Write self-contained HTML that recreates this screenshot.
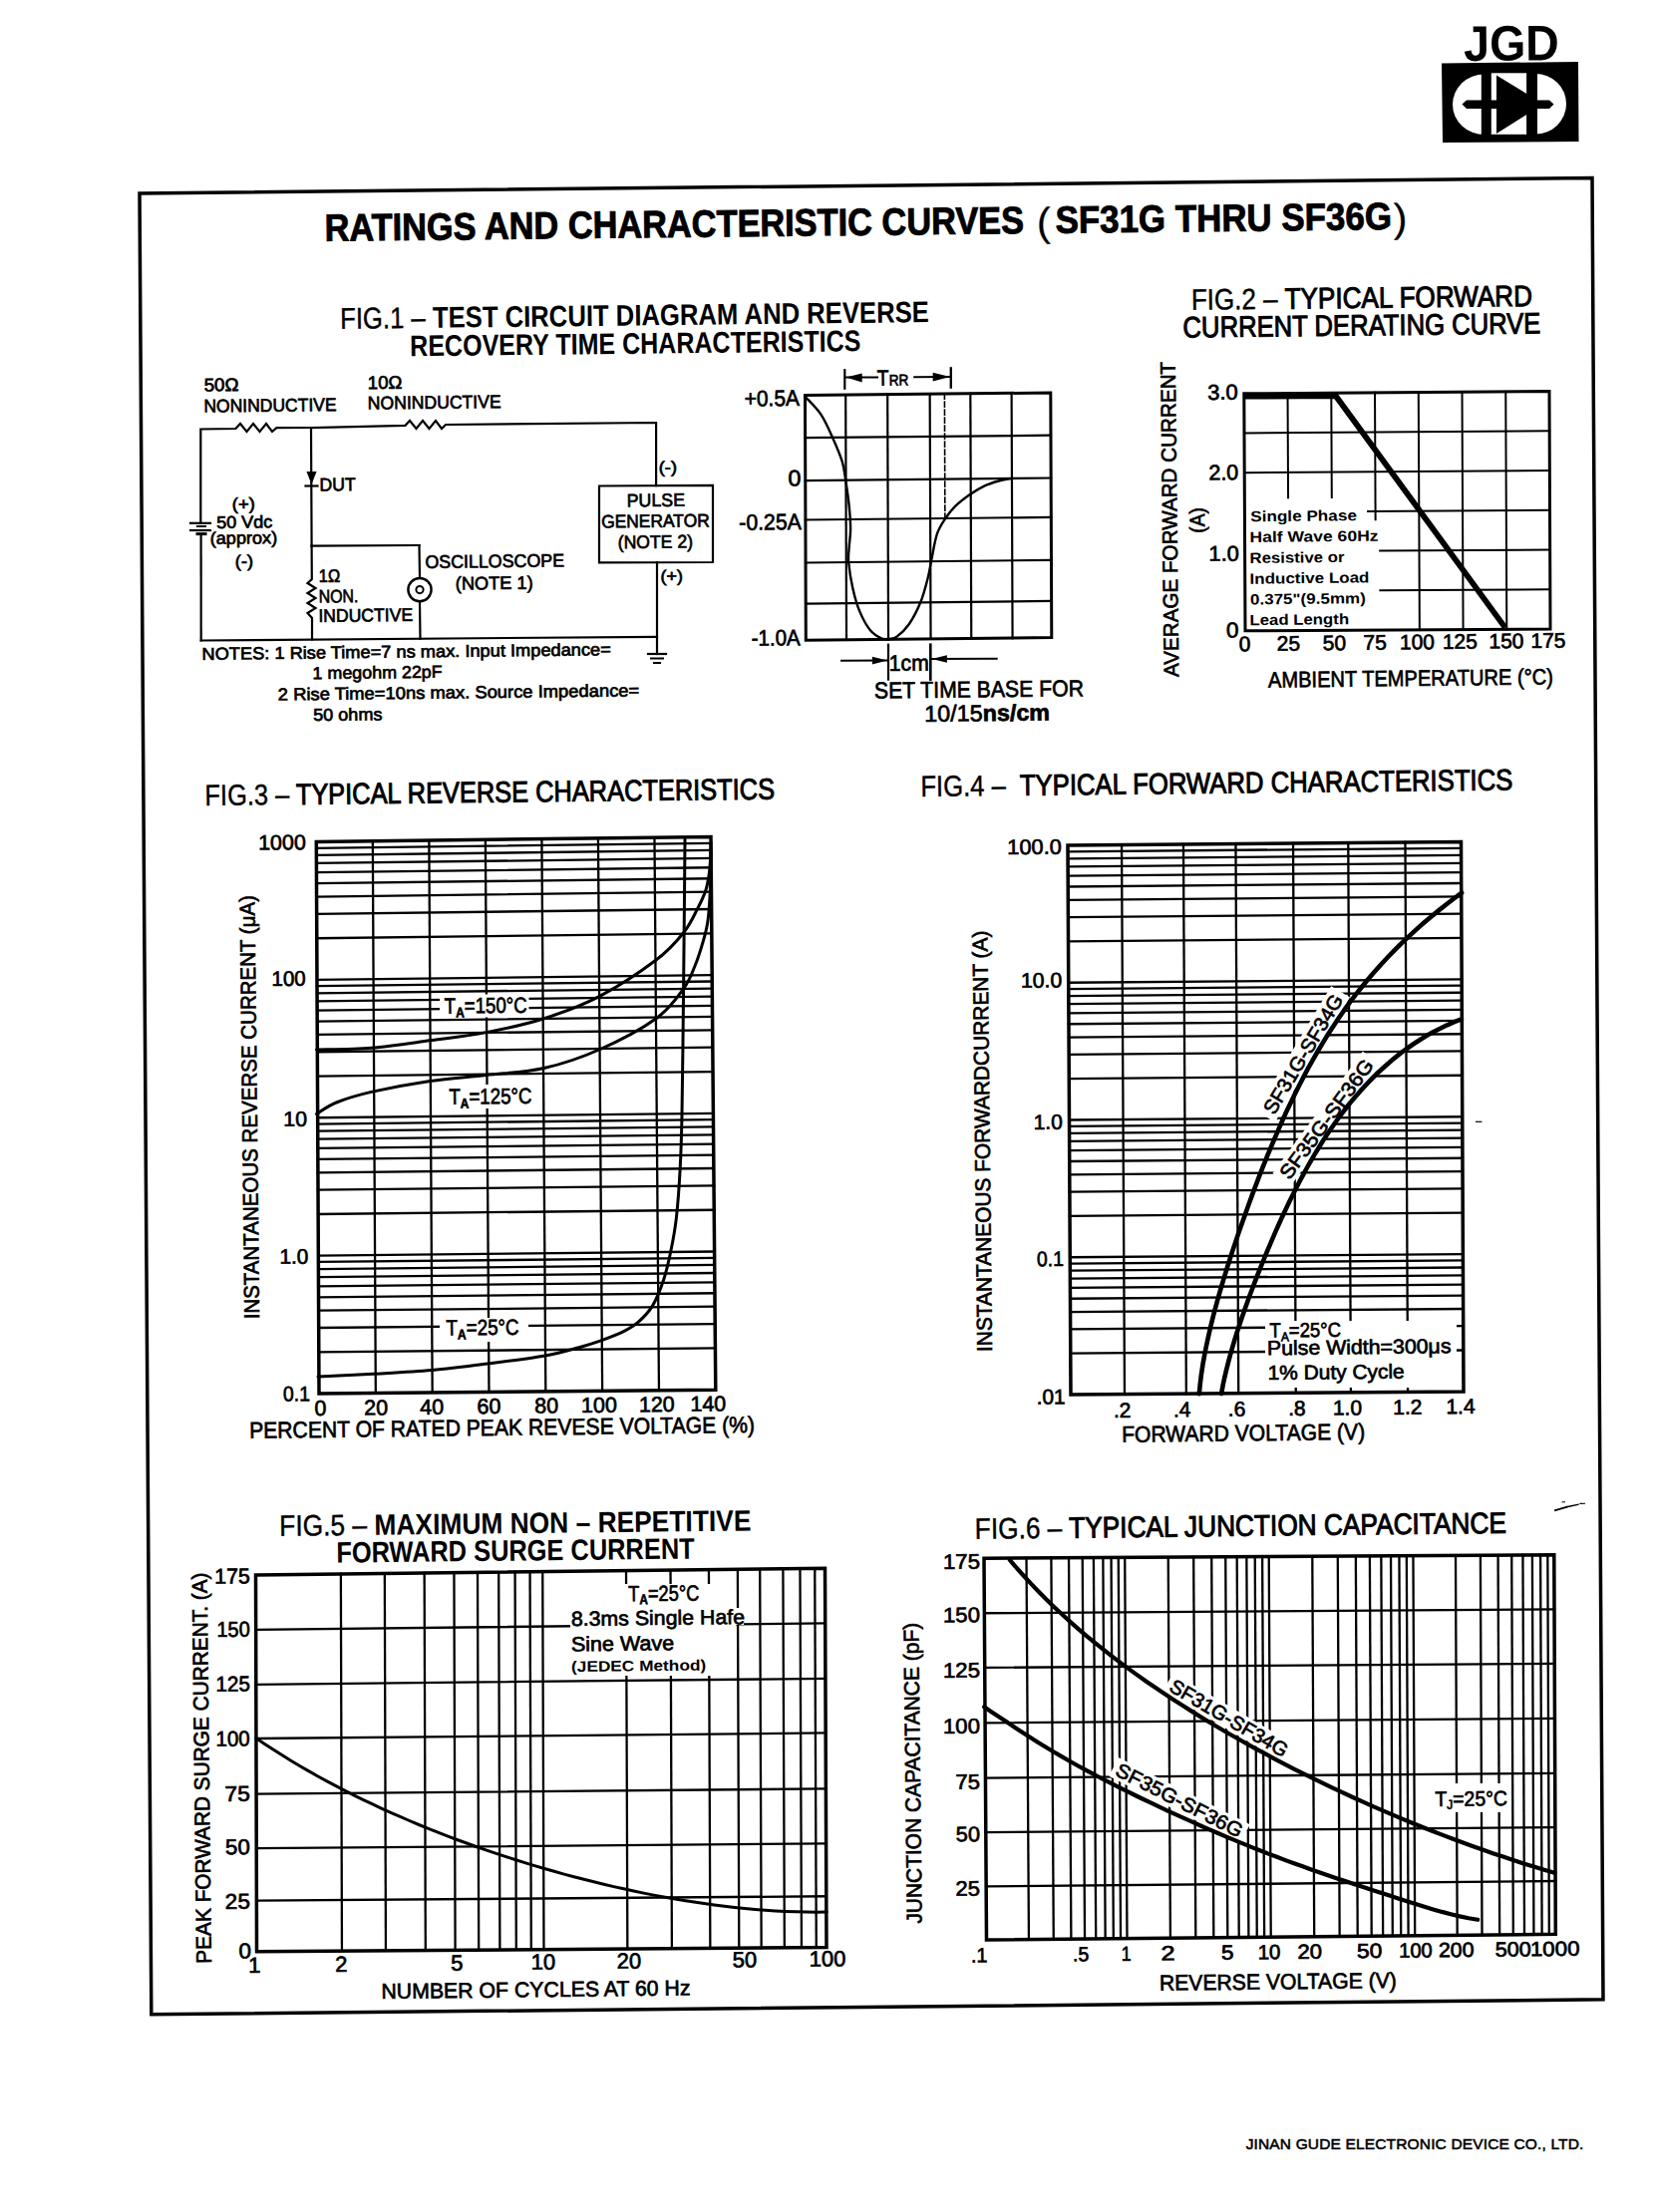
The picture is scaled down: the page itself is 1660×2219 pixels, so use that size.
<!DOCTYPE html><html><head><meta charset="utf-8"><style>html,body{margin:0;padding:0;background:#fff;}svg{display:block;}text{font-family:"Liberation Sans",sans-serif;fill:#000;stroke:none;}text.t{stroke:#000;stroke-width:0.5px;}</style></head><body>
<svg width="1660" height="2219" viewBox="0 0 1660 2219">
<rect x="0" y="0" width="1660" height="2219" fill="#fff"/>
<g stroke="#000" fill="none" stroke-linecap="square">
<path d="M1446 63.5 L1583 62 L1583.5 142 L1447 143 Z" stroke-width="0" fill="#000" stroke="none"/>
<ellipse cx="1489" cy="104.8" rx="32" ry="30.3" fill="#fff" stroke="none"/>
<ellipse cx="1540" cy="104.2" rx="31" ry="30.3" fill="#fff" stroke="none"/>
<rect x="1488" y="73.3" width="54" height="61.5" fill="#fff" stroke="none"/>
<path d="M1485.8 72 L1495.8 72 L1495.8 136 L1485.8 136 Z" stroke-width="0" fill="#000" stroke="none"/>
<path d="M1531.1 72 L1542 72 L1542 136 L1531.1 136 Z" stroke-width="0" fill="#000" stroke="none"/>
<path d="M1501 75.5 L1532 94.5 L1532 114.5 L1501 134 Z" stroke-width="0" fill="#000" stroke="none"/>
<path d="M1466.5 104.5 L1471 100.5 L1554 100.5 L1558.5 104.5 L1554 109 L1471 109 Z" stroke-width="0" fill="#000" stroke="none"/>
<text x="1468.3" y="61" font-size="50" font-weight="bold" textLength="95.66" lengthAdjust="spacingAndGlyphs" transform="rotate(-0.4 1468.3 61)">JGD</text>
<path d="M140 194 L1597 178.5 L1608 2005.8 L151.8 2020.8 Z" stroke-width="3.5" fill="none" stroke-linejoin="miter"/>
<text x="325.72" y="241.8" font-size="38.3" font-weight="bold" textLength="701.42" lengthAdjust="spacingAndGlyphs" transform="rotate(-0.63 325.72 241.8)" style="stroke:#000;stroke-width:0.9px">RATINGS AND CHARACTERISTIC CURVES</text>
<text x="1040.13" y="236.44" font-size="40" textLength="13.82" lengthAdjust="spacingAndGlyphs" transform="rotate(-0.63 1040.13 236.44)" style="stroke:#000;stroke-width:0.2px">(</text>
<text x="1058.69" y="233.75" font-size="38.3" font-weight="bold" textLength="337.37" lengthAdjust="spacingAndGlyphs" transform="rotate(-0.63 1058.69 233.75)" style="stroke:#000;stroke-width:0.9px">SF31G THRU SF36G</text>
<text x="1397.76" y="232.53" font-size="40" textLength="13.82" lengthAdjust="spacingAndGlyphs" transform="rotate(-0.63 1397.76 232.53)" style="stroke:#000;stroke-width:0.2px">)</text>
<text x="341.29" y="329.8" font-size="29.8" font-weight="bold" textLength="590.71" lengthAdjust="spacingAndGlyphs" transform="rotate(-0.65 341.29 329.8)"><tspan font-weight="normal" style="stroke:#000;stroke-width:0.4px">FIG.1 – </tspan>TEST CIRCUIT DIAGRAM AND REVERSE</text>
<text x="411.33" y="357.3" font-size="29.8" font-weight="bold" textLength="452.15" lengthAdjust="spacingAndGlyphs" transform="rotate(-0.65 411.33 357.3)">RECOVERY TIME CHARACTERISTICS</text>
<text x="204.65" y="392.4" font-size="18.3" textLength="35.06" lengthAdjust="spacingAndGlyphs" transform="rotate(-0.65 204.65 392.4)" style="stroke:#000;stroke-width:0.7px">50Ω</text>
<text x="204.46" y="413.6" font-size="18.3" textLength="133.19" lengthAdjust="spacingAndGlyphs" transform="rotate(-0.65 204.46 413.6)" style="stroke:#000;stroke-width:0.7px">NONINDUCTIVE</text>
<text x="368.88" y="390.2" font-size="18.3" textLength="34.62" lengthAdjust="spacingAndGlyphs" transform="rotate(-0.65 368.88 390.2)" style="stroke:#000;stroke-width:0.7px">10Ω</text>
<text x="368.86" y="410.6" font-size="18.3" textLength="133.8" lengthAdjust="spacingAndGlyphs" transform="rotate(-0.65 368.86 410.6)" style="stroke:#000;stroke-width:0.7px">NONINDUCTIVE</text>
<text x="660.77" y="474.5" font-size="16.5" textLength="18.27" lengthAdjust="spacingAndGlyphs" transform="rotate(-0.65 660.77 474.5)" style="stroke:#000;stroke-width:0.7px">(-)</text>
<text x="320.55" y="492.5" font-size="18.3" textLength="36.36" lengthAdjust="spacingAndGlyphs" transform="rotate(-0.65 320.55 492.5)" style="stroke:#000;stroke-width:0.7px">DUT</text>
<text x="232.85" y="511.5" font-size="17" textLength="23.09" lengthAdjust="spacingAndGlyphs" transform="rotate(-0.65 232.85 511.5)" style="stroke:#000;stroke-width:0.7px">(+)</text>
<text x="217.18" y="529.9" font-size="17.2" textLength="56.2" lengthAdjust="spacingAndGlyphs" transform="rotate(-0.65 217.18 529.9)" style="stroke:#000;stroke-width:0.7px">50 Vdc</text>
<text x="210.78" y="545.9" font-size="17.2" textLength="67.45" lengthAdjust="spacingAndGlyphs" transform="rotate(-0.65 210.78 545.9)" style="stroke:#000;stroke-width:0.7px">(approx)</text>
<text x="235.87" y="568.9" font-size="17" textLength="18.27" lengthAdjust="spacingAndGlyphs" transform="rotate(-0.65 235.87 568.9)" style="stroke:#000;stroke-width:0.7px">(-)</text>
<text x="628.74" y="508.4" font-size="18.3" textLength="58.32" lengthAdjust="spacingAndGlyphs" transform="rotate(-0.65 628.74 508.4)" style="stroke:#000;stroke-width:0.7px">PULSE</text>
<text x="603.14" y="529.5" font-size="18.3" textLength="108.66" lengthAdjust="spacingAndGlyphs" transform="rotate(-0.65 603.14 529.5)" style="stroke:#000;stroke-width:0.7px">GENERATOR</text>
<text x="619.81" y="550.3" font-size="18.3" textLength="75.28" lengthAdjust="spacingAndGlyphs" transform="rotate(-0.65 619.81 550.3)" style="stroke:#000;stroke-width:0.7px">(NOTE 2)</text>
<text x="662.48" y="583.7" font-size="16.5" textLength="22.54" lengthAdjust="spacingAndGlyphs" transform="rotate(-0.65 662.48 583.7)" style="stroke:#000;stroke-width:0.7px">(+)</text>
<text x="426.46" y="570" font-size="18.3" textLength="139.61" lengthAdjust="spacingAndGlyphs" transform="rotate(-0.65 426.46 570)" style="stroke:#000;stroke-width:0.7px">OSCILLOSCOPE</text>
<text x="456.87" y="591.6" font-size="18.3" textLength="77.86" lengthAdjust="spacingAndGlyphs" transform="rotate(-0.65 456.87 591.6)" style="stroke:#000;stroke-width:0.7px">(NOTE 1)</text>
<text x="319.75" y="584" font-size="18.3" textLength="21.46" lengthAdjust="spacingAndGlyphs" transform="rotate(-0.65 319.75 584)" style="stroke:#000;stroke-width:0.7px">1Ω</text>
<text x="319.7" y="604.6" font-size="18.3" textLength="39.76" lengthAdjust="spacingAndGlyphs" transform="rotate(-0.65 319.7 604.6)" style="stroke:#000;stroke-width:0.7px">NON.</text>
<text x="319.38" y="624" font-size="18.3" textLength="94.78" lengthAdjust="spacingAndGlyphs" transform="rotate(-0.65 319.38 624)" style="stroke:#000;stroke-width:0.7px">INDUCTIVE</text>
<text x="202.51" y="661.9" font-size="17.3" textLength="410.39" lengthAdjust="spacingAndGlyphs" transform="rotate(-0.65 202.51 661.9)" style="stroke:#000;stroke-width:0.7px">NOTES: 1 Rise Time=7 ns max. Input Impedance=</text>
<text x="313.64" y="681.2" font-size="17.3" textLength="130.08" lengthAdjust="spacingAndGlyphs" transform="rotate(-0.65 313.64 681.2)" style="stroke:#000;stroke-width:0.7px">1 megohm 22pF</text>
<text x="278.88" y="702.5" font-size="17.3" textLength="362.42" lengthAdjust="spacingAndGlyphs" transform="rotate(-0.65 278.88 702.5)" style="stroke:#000;stroke-width:0.7px">2  Rise Time=10ns max. Source Impedance=</text>
<text x="314.28" y="723.1" font-size="17.3" textLength="69.17" lengthAdjust="spacingAndGlyphs" transform="rotate(-0.65 314.28 723.1)" style="stroke:#000;stroke-width:0.7px">50 ohms</text>
<path d="M201.3 524.8 L201.3 430.5 L236.4 430 L241 425 L247.5 433 L254 425 L260.5 433 L267 425 L273 433 L277.4 429.2 L312 429" stroke-width="2.2" fill="none" stroke-linejoin="miter"/>
<path d="M312 429 L406.5 426.8 L411 422 L417.5 430 L424 422 L430.5 430 L437 422 L443 430 L447 426 L658.1 424 L658.1 487.2" stroke-width="2.2" fill="none" stroke-linejoin="miter"/>
<line x1="312" y1="429" x2="312.6" y2="547.6" stroke-width="2.2"/>
<path d="M307.5 473 L317.5 473 L312.5 486 Z" stroke-width="0" fill="#000" stroke="none"/>
<line x1="306.5" y1="487.5" x2="318.5" y2="487.5" stroke-width="2.2"/>
<path d="M312.6 547.6 L420.5 547" stroke-width="2.2" fill="none"/>
<line x1="420.5" y1="547" x2="421" y2="579.5" stroke-width="2.2"/>
<line x1="421" y1="604" x2="421.5" y2="641" stroke-width="2.2"/>
<circle cx="421" cy="591.6" r="11.6" stroke-width="2.4" fill="none"/>
<circle cx="421" cy="591.6" r="3.6" stroke-width="2" fill="none"/>
<path d="M312.6 547.6 L312.8 581 L308.5 585 L316.5 590 L308.5 595 L316.5 600 L308.5 605 L316.5 610 L308.5 615 L313 620 L313 641.5" stroke-width="2.2" fill="none" stroke-linejoin="miter"/>
<line x1="201.7" y1="642.5" x2="659" y2="638.8" stroke-width="2.2"/>
<line x1="659" y1="564.2" x2="659" y2="656" stroke-width="2.2"/>
<line x1="650" y1="656" x2="668" y2="656" stroke-width="2.2"/>
<line x1="653" y1="660.5" x2="665" y2="660.5" stroke-width="2"/>
<line x1="656" y1="665" x2="662" y2="665" stroke-width="2"/>
<path d="M601 487.5 L715 486.8 L715 564 L601 564.4 Z" stroke-width="2.2" fill="none" stroke-linejoin="miter"/>
<line x1="191" y1="524.8" x2="211" y2="524.8" stroke-width="2.2"/>
<line x1="198" y1="528" x2="206" y2="528" stroke-width="2"/>
<line x1="191" y1="532" x2="211" y2="532" stroke-width="2.2"/>
<line x1="198" y1="535.6" x2="206" y2="535.6" stroke-width="3"/>
<line x1="201.6" y1="536" x2="201.7" y2="642.5" stroke-width="2.2"/>
<line x1="848.19" y1="396.09" x2="849.02" y2="641.85" stroke-width="2.2"/>
<line x1="890.18" y1="395.66" x2="891.05" y2="641.39" stroke-width="2.2"/>
<line x1="932.65" y1="395.23" x2="933.55" y2="640.93" stroke-width="2.2"/>
<line x1="973.33" y1="394.82" x2="974.27" y2="640.48" stroke-width="2.2"/>
<line x1="1014.61" y1="394.4" x2="1015.58" y2="640.03" stroke-width="2.2"/>
<line x1="807.64" y1="439.2" x2="1053.97" y2="436.66" stroke-width="2.2"/>
<line x1="807.78" y1="482.09" x2="1054.15" y2="479.52" stroke-width="2.2"/>
<line x1="807.91" y1="521.49" x2="1054.31" y2="518.89" stroke-width="2.2"/>
<line x1="808.05" y1="564.48" x2="1054.48" y2="561.84" stroke-width="2.2"/>
<line x1="808.18" y1="605.58" x2="1054.65" y2="602.91" stroke-width="2.2"/>
<path d="M807.5 396.5 L1053.8 394 L1054.8 639.6 L808.3 642.3 Z" stroke-width="3" fill="none" stroke-linejoin="miter"/>
<line x1="947.4" y1="395.08" x2="947.86" y2="519.15" stroke-width="1.6" stroke-dasharray="5 3"/>
<path d="M808.2 398.5 C810.75 401.4 818.98 409.08 823.5 415.9 C828.02 422.72 831.77 431.57 835.3 439.4 C838.83 447.23 842.55 455.85 844.7 462.9 C846.85 469.95 847.03 474.25 848.2 481.7 C849.37 489.15 850.88 499.37 851.7 507.6 C852.52 515.83 853.1 524.25 853.1 531.1 C853.1 537.95 852.02 543.22 851.7 548.7 C851.38 554.18 850.6 557.13 851.2 564 C851.8 570.87 853.45 581.67 855.3 589.9 C857.15 598.13 859.37 606.35 862.3 613.4 C865.23 620.45 869.18 627.67 872.9 632.2 C876.62 636.73 881.47 639.13 884.6 640.6 C887.73 642.07 889.15 641.37 891.7 641 C894.25 640.63 896.57 640.85 899.9 638.4 C903.23 635.95 907.78 632.03 911.7 626.3 C915.62 620.57 920.27 611.63 923.4 604 C926.53 596.37 928.65 587.75 930.5 580.5 C932.35 573.25 932.92 568.02 934.5 560.5 C936.08 552.98 937.63 542.23 940 535.4 C942.37 528.57 945.68 524.08 948.7 519.5 C951.72 514.92 954.12 511.77 958.1 507.9 C962.08 504.03 967.77 499.68 972.6 496.3 C977.43 492.92 982.27 489.9 987.1 487.6 C991.93 485.3 997.37 483.72 1001.6 482.5 C1005.83 481.28 1010.1 480.72 1012.5 480.3 C1014.9 479.88 1015.42 480.05 1016 480" stroke-width="2.4" fill="none" stroke-linecap="round" stroke-linejoin="round"/>
<text x="802.04" y="406.9" font-size="22.5" text-anchor="end" textLength="55.26" lengthAdjust="spacingAndGlyphs" transform="rotate(-0.65 802.04 406.9)" style="stroke:#000;stroke-width:0.7px">+0.5A</text>
<text x="803.62" y="487.4" font-size="22.5" text-anchor="end" textLength="13.03" lengthAdjust="spacingAndGlyphs" transform="rotate(-0.65 803.62 487.4)" style="stroke:#000;stroke-width:0.7px">0</text>
<text x="803.84" y="531" font-size="22.5" text-anchor="end" textLength="62.48" lengthAdjust="spacingAndGlyphs" transform="rotate(-0.65 803.84 531)" style="stroke:#000;stroke-width:0.7px">-0.25A</text>
<text x="802.74" y="647.3" font-size="22.5" text-anchor="end" textLength="49.05" lengthAdjust="spacingAndGlyphs" transform="rotate(-0.65 802.74 647.3)" style="stroke:#000;stroke-width:0.7px">-1.0A</text>
<line x1="847.3" y1="371.2" x2="847.3" y2="389.7" stroke-width="2.2"/>
<line x1="953.8" y1="369.4" x2="953.8" y2="388.6" stroke-width="2.4"/>
<line x1="848" y1="378.6" x2="880" y2="378.4" stroke-width="2"/>
<path d="M848.5 378.6 L864.7 374.6 L864.7 383.4 Z" stroke-width="0" fill="#000" stroke="none"/>
<line x1="917.2" y1="378.2" x2="953" y2="378" stroke-width="2"/>
<path d="M953 378 L935.7 373.8 L935.7 382.6 Z" stroke-width="0" fill="#000" stroke="none"/>
<text x="879.86" y="386.8" font-size="22" textLength="31.56" lengthAdjust="spacingAndGlyphs" transform="rotate(-0.65 879.86 386.8)" style="stroke:#000;stroke-width:0.7px">T<tspan font-size="15.5">RR</tspan></text>
<line x1="891" y1="646.7" x2="891" y2="681.6" stroke-width="2.2"/>
<line x1="933.3" y1="646.7" x2="933.3" y2="681.6" stroke-width="2.6"/>
<line x1="844.1" y1="662.8" x2="889" y2="662.5" stroke-width="2"/>
<path d="M890 662.5 L874.9 658.8 L874.9 666.4 Z" stroke-width="0" fill="#000" stroke="none"/>
<line x1="934" y1="661" x2="999.7" y2="660.8" stroke-width="2"/>
<path d="M934.5 661 L949.9 657.3 L949.9 664.8 Z" stroke-width="0" fill="#000" stroke="none"/>
<text x="891.79" y="672.9" font-size="22.5" textLength="40.01" lengthAdjust="spacingAndGlyphs" transform="rotate(-0.65 891.79 672.9)" style="stroke:#000;stroke-width:0.7px">1cm</text>
<text x="877.04" y="700.6" font-size="23" textLength="209.94" lengthAdjust="spacingAndGlyphs" transform="rotate(-0.65 877.04 700.6)" style="stroke:#000;stroke-width:0.7px">SET TIME BASE FOR</text>
<text x="927.35" y="723.9" font-size="23" textLength="125.76" lengthAdjust="spacingAndGlyphs" transform="rotate(-0.65 927.35 723.9)" style="stroke:#000;stroke-width:0.7px">10/15<tspan font-weight="bold">ns/cm</tspan></text>
<text x="1194.88" y="310.8" font-size="29.5" textLength="342.16" lengthAdjust="spacingAndGlyphs" transform="rotate(-0.65 1194.88 310.8)" style="stroke:#000;stroke-width:1px"><tspan style="stroke:#000;stroke-width:0.4px">FIG.2 – </tspan>TYPICAL FORWARD</text>
<text x="1186.61" y="338.5" font-size="29.5" textLength="358.88" lengthAdjust="spacingAndGlyphs" transform="rotate(-0.65 1186.61 338.5)" style="stroke:#000;stroke-width:1px">CURRENT DERATING CURVE</text>
<line x1="1291.54" y1="394.49" x2="1292.06" y2="499.23" stroke-width="2"/>
<line x1="1335.29" y1="394.17" x2="1335.79" y2="498.94" stroke-width="2"/>
<line x1="1379.03" y1="393.86" x2="1379.62" y2="521.28" stroke-width="2"/>
<line x1="1422.77" y1="393.54" x2="1423.86" y2="631.77" stroke-width="2"/>
<line x1="1466.51" y1="393.23" x2="1467.57" y2="631.51" stroke-width="2"/>
<line x1="1510.26" y1="392.91" x2="1511.29" y2="631.26" stroke-width="2"/>
<line x1="1248" y1="434.47" x2="1554.17" y2="432.33" stroke-width="2"/>
<line x1="1248.2" y1="474.13" x2="1554.33" y2="472.07" stroke-width="2"/>
<line x1="1372.06" y1="512.99" x2="1554.5" y2="511.8" stroke-width="2"/>
<line x1="1384.19" y1="552.61" x2="1554.67" y2="551.53" stroke-width="2"/>
<line x1="1384.37" y1="592.31" x2="1554.83" y2="591.27" stroke-width="2"/>
<path d="M1247.8 394.8 L1554 392.6 L1555 631 L1249 632.8 Z" stroke-width="3" fill="none" stroke-linejoin="miter"/>
<path d="M1247.81 397.66 L1339.67 397 L1509.7 629.6" stroke-width="5.8" fill="none" stroke-linejoin="round" stroke-linecap="butt"/>
<text x="1241.86" y="400.6" font-size="21.5" text-anchor="end" textLength="30.7" lengthAdjust="spacingAndGlyphs" transform="rotate(-0.65 1241.86 400.6)" style="stroke:#000;stroke-width:0.7px">3.0</text>
<text x="1242.34" y="481.2" font-size="21.5" text-anchor="end" textLength="29.92" lengthAdjust="spacingAndGlyphs" transform="rotate(-0.65 1242.34 481.2)" style="stroke:#000;stroke-width:0.7px">2.0</text>
<text x="1242.85" y="562.5" font-size="21.5" text-anchor="end" textLength="30.31" lengthAdjust="spacingAndGlyphs" transform="rotate(-0.65 1242.85 562.5)" style="stroke:#000;stroke-width:0.7px">1.0</text>
<text x="1242.68" y="639.4" font-size="21.5" text-anchor="end" textLength="12.57" lengthAdjust="spacingAndGlyphs" transform="rotate(-0.65 1242.68 639.4)" style="stroke:#000;stroke-width:0.7px">0</text>
<text x="1248.5" y="653.2" font-size="21" text-anchor="middle" transform="rotate(-0.65 1248.5 653.2)" style="stroke:#000;stroke-width:0.7px">0</text>
<text x="1292.4" y="652.7" font-size="21" text-anchor="middle" transform="rotate(-0.65 1292.4 652.7)" style="stroke:#000;stroke-width:0.7px">25</text>
<text x="1338.4" y="652.18" font-size="21" text-anchor="middle" transform="rotate(-0.65 1338.4 652.18)" style="stroke:#000;stroke-width:0.7px">50</text>
<text x="1379.2" y="651.72" font-size="21" text-anchor="middle" transform="rotate(-0.65 1379.2 651.72)" style="stroke:#000;stroke-width:0.7px">75</text>
<text x="1421.5" y="651.24" font-size="21" text-anchor="middle" transform="rotate(-0.65 1421.5 651.24)" style="stroke:#000;stroke-width:0.7px">100</text>
<text x="1464.4" y="650.75" font-size="21" text-anchor="middle" transform="rotate(-0.65 1464.4 650.75)" style="stroke:#000;stroke-width:0.7px">125</text>
<text x="1511" y="650.22" font-size="21" text-anchor="middle" transform="rotate(-0.65 1511 650.22)" style="stroke:#000;stroke-width:0.7px">150</text>
<text x="1553" y="649.74" font-size="21" text-anchor="middle" transform="rotate(-0.65 1553 649.74)" style="stroke:#000;stroke-width:0.7px">175</text>
<text x="1272.06" y="689.7" font-size="22.4" textLength="285.87" lengthAdjust="spacingAndGlyphs" transform="rotate(-0.65 1272.06 689.7)" style="stroke:#000;stroke-width:0.7px">AMBIENT TEMPERATURE (°C)</text>
<text x="0" y="0" font-size="21.2" textLength="316.2" lengthAdjust="spacingAndGlyphs" style="stroke:#000;stroke-width:0.7px" transform="translate(1182.29 679) rotate(-90.65)">AVERAGE FORWARD CURRENT</text>
<text x="0" y="0" font-size="21.2" textLength="25.7" lengthAdjust="spacingAndGlyphs" style="stroke:#000;stroke-width:0.7px" transform="translate(1208.29 534.7) rotate(-90.65)">(A)</text>
<text x="1254.21" y="523.3" font-size="15" font-weight="bold" textLength="106.78" lengthAdjust="spacingAndGlyphs" transform="rotate(-0.65 1254.21 523.3)">Single Phase</text>
<text x="1253.53" y="544" font-size="15" font-weight="bold" textLength="129.1" lengthAdjust="spacingAndGlyphs" transform="rotate(-0.65 1253.53 544)">Half Wave 60Hz</text>
<text x="1253.58" y="565" font-size="15" font-weight="bold" textLength="94.87" lengthAdjust="spacingAndGlyphs" transform="rotate(-0.65 1253.58 565)">Resistive or</text>
<text x="1253.56" y="585.7" font-size="15" font-weight="bold" textLength="119.96" lengthAdjust="spacingAndGlyphs" transform="rotate(-0.65 1253.56 585.7)">Inductive Load</text>
<text x="1254.03" y="606.5" font-size="15" font-weight="bold" textLength="115.82" lengthAdjust="spacingAndGlyphs" transform="rotate(-0.65 1254.03 606.5)">0.375"(9.5mm)</text>
<text x="1253.58" y="627.2" font-size="15" font-weight="bold" textLength="99.56" lengthAdjust="spacingAndGlyphs" transform="rotate(-0.65 1253.58 627.2)">Lead Length</text>
<text x="205.62" y="808" font-size="29.5" textLength="571.54" lengthAdjust="spacingAndGlyphs" transform="rotate(-0.65 205.62 808)" style="stroke:#000;stroke-width:1px"><tspan style="stroke:#000;stroke-width:0.4px">FIG.3 – </tspan>TYPICAL REVERSE CHARACTERISTICS</text>
<line x1="373.83" y1="843.79" x2="376.83" y2="1397.46" stroke-width="2.3"/>
<line x1="430.36" y1="843.07" x2="433.66" y2="1396.91" stroke-width="2.3"/>
<line x1="486.89" y1="842.36" x2="490.49" y2="1396.37" stroke-width="2.3"/>
<line x1="543.41" y1="841.64" x2="547.31" y2="1395.83" stroke-width="2.3"/>
<line x1="599.94" y1="840.93" x2="604.14" y2="1395.29" stroke-width="2.3"/>
<line x1="656.47" y1="840.21" x2="660.97" y2="1394.74" stroke-width="2.3"/>
<line x1="319.8" y1="1356.34" x2="717.44" y2="1352.45" stroke-width="2.3"/>
<line x1="319.68" y1="1331.98" x2="717.23" y2="1328.04" stroke-width="2.3"/>
<line x1="319.59" y1="1314.69" x2="717.08" y2="1310.71" stroke-width="2.3"/>
<line x1="319.53" y1="1301.28" x2="716.96" y2="1297.27" stroke-width="2.3"/>
<line x1="319.47" y1="1290.32" x2="716.87" y2="1286.29" stroke-width="2.3"/>
<line x1="319.43" y1="1281.06" x2="716.79" y2="1277.01" stroke-width="2.3"/>
<line x1="319.39" y1="1273.03" x2="716.72" y2="1268.96" stroke-width="2.3"/>
<line x1="319.36" y1="1265.96" x2="716.65" y2="1261.87" stroke-width="2.3"/>
<line x1="319.32" y1="1259.62" x2="716.6" y2="1255.53" stroke-width="2.3"/>
<line x1="319.12" y1="1217.97" x2="716.24" y2="1213.78" stroke-width="2.3"/>
<line x1="319" y1="1193.6" x2="716.03" y2="1189.36" stroke-width="2.3"/>
<line x1="318.92" y1="1176.31" x2="715.88" y2="1172.03" stroke-width="2.3"/>
<line x1="318.85" y1="1162.91" x2="715.76" y2="1158.6" stroke-width="2.3"/>
<line x1="318.8" y1="1151.95" x2="715.67" y2="1147.61" stroke-width="2.3"/>
<line x1="318.75" y1="1142.68" x2="715.59" y2="1138.33" stroke-width="2.3"/>
<line x1="318.72" y1="1134.66" x2="715.52" y2="1130.29" stroke-width="2.3"/>
<line x1="318.68" y1="1127.58" x2="715.45" y2="1123.2" stroke-width="2.3"/>
<line x1="318.65" y1="1121.25" x2="715.4" y2="1116.85" stroke-width="2.3"/>
<line x1="318.45" y1="1079.59" x2="715.04" y2="1075.1" stroke-width="2.3"/>
<line x1="318.33" y1="1055.23" x2="714.83" y2="1050.69" stroke-width="2.3"/>
<line x1="318.24" y1="1037.94" x2="714.68" y2="1033.36" stroke-width="2.3"/>
<line x1="318.18" y1="1024.53" x2="714.56" y2="1019.92" stroke-width="2.3"/>
<line x1="318.12" y1="1013.57" x2="714.47" y2="1008.94" stroke-width="2.3"/>
<line x1="318.08" y1="1004.31" x2="714.39" y2="999.66" stroke-width="2.3"/>
<line x1="318.04" y1="996.28" x2="714.32" y2="991.61" stroke-width="2.3"/>
<line x1="318.01" y1="989.21" x2="714.25" y2="984.52" stroke-width="2.3"/>
<line x1="317.98" y1="982.88" x2="714.2" y2="978.17" stroke-width="2.3"/>
<line x1="317.77" y1="941.22" x2="713.84" y2="936.43" stroke-width="2.3"/>
<line x1="317.65" y1="916.85" x2="713.63" y2="912.01" stroke-width="2.3"/>
<line x1="317.57" y1="899.56" x2="713.48" y2="894.68" stroke-width="2.3"/>
<line x1="317.5" y1="886.16" x2="713.36" y2="881.25" stroke-width="2.3"/>
<line x1="317.45" y1="875.2" x2="713.27" y2="870.26" stroke-width="2.3"/>
<line x1="317.4" y1="865.93" x2="713.19" y2="860.98" stroke-width="2.3"/>
<line x1="317.37" y1="857.91" x2="713.12" y2="852.94" stroke-width="2.3"/>
<line x1="317.33" y1="850.83" x2="713.05" y2="845.85" stroke-width="2.3"/>
<path d="M317.3 844.5 L713 839.5 L717.8 1394.2 L320 1398 Z" stroke-width="3.5" fill="none" stroke-linejoin="miter"/>
<rect x="441" y="997.5" width="89.5" height="23" fill="#fff" stroke="none"/>
<rect x="446" y="1088" width="90" height="24" fill="#fff" stroke="none"/>
<rect x="441" y="1322" width="89" height="24" fill="#fff" stroke="none"/>
<path d="M317.5 1053 C326.67 1052.7 353.52 1052.73 372.5 1051.2 C391.48 1049.67 412.18 1046.4 431.4 1043.8 C450.62 1041.2 468.75 1039.28 487.8 1035.6 C506.85 1031.92 526.83 1027.7 545.7 1021.7 C564.57 1015.7 582.27 1009.38 601 999.6 C619.73 989.82 644.02 973.63 658.1 963 C672.18 952.37 678.57 944.4 685.5 935.8 C692.43 927.2 695.97 918.53 699.7 911.4 C703.43 904.27 705.93 899.07 707.9 893 C709.87 886.93 710.65 881.33 711.5 875 C712.35 868.67 712.75 858.33 713 855" stroke-width="3" fill="none" stroke-linecap="round" stroke-linejoin="round"/>
<path d="M317.5 1117.5 C320.82 1115.58 328.23 1109.68 337.4 1106 C346.57 1102.32 356.83 1099 372.5 1095.4 C388.17 1091.8 412.18 1087.22 431.4 1084.4 C450.62 1081.58 468.75 1080.65 487.8 1078.5 C506.85 1076.35 526.83 1075.75 545.7 1071.5 C564.57 1067.25 582.27 1061.3 601 1053 C619.73 1044.7 644.02 1031.87 658.1 1021.7 C672.18 1011.53 678.97 1000.9 685.5 992 C692.03 983.1 693.98 976.32 697.3 968.3 C700.62 960.28 703.32 951.12 705.4 943.9 C707.48 936.68 708.7 932.32 709.8 925 C710.9 917.68 711.47 909.17 712 900 C712.53 890.83 712.83 879.17 713 870 C713.17 860.83 713 849.17 713 845" stroke-width="3" fill="none" stroke-linecap="round" stroke-linejoin="round"/>
<path d="M319 1380.9 C328.22 1380.47 355.25 1379.35 374.3 1378.3 C393.35 1377.25 414.13 1376.32 433.3 1374.6 C452.47 1372.88 470.38 1370.45 489.3 1368 C508.22 1365.55 531.57 1362.62 546.8 1359.9 C562.03 1357.18 571.5 1354.17 580.7 1351.7 C589.9 1349.23 594.62 1347.73 602 1345.1 C609.38 1342.47 618.72 1338.97 625 1335.9 C631.28 1332.83 634.8 1331 639.7 1326.7 C644.6 1322.4 650.1 1317.17 654.4 1310.1 C658.7 1303.03 662.42 1293.52 665.5 1284.3 C668.58 1275.08 670.75 1265.25 672.9 1254.8 C675.05 1244.35 676.87 1235.12 678.4 1221.6 C679.93 1208.08 681.17 1190.9 682.1 1173.7 C683.03 1156.5 683.43 1147.35 684 1118.4 C684.57 1089.45 685.08 1036.4 685.5 1000 C685.92 963.6 686.25 926.33 686.5 900 C686.75 873.67 686.92 851.67 687 842" stroke-width="3" fill="none" stroke-linecap="round" stroke-linejoin="round"/>
<text x="445.7" y="1016.7" font-size="22" textLength="83.18" lengthAdjust="spacingAndGlyphs" transform="rotate(-0.65 445.7 1016.7)" style="stroke:#000;stroke-width:0.7px">T<tspan font-size="14" font-weight="bold" dy="4">A</tspan><tspan dy="-4">=150°C</tspan></text>
<text x="450.4" y="1107.8" font-size="22" textLength="83.18" lengthAdjust="spacingAndGlyphs" transform="rotate(-0.65 450.4 1107.8)" style="stroke:#000;stroke-width:0.7px">T<tspan font-size="14" font-weight="bold" dy="4">A</tspan><tspan dy="-4">=125°C</tspan></text>
<text x="447.6" y="1339.6" font-size="22" textLength="73.08" lengthAdjust="spacingAndGlyphs" transform="rotate(-0.65 447.6 1339.6)" style="stroke:#000;stroke-width:0.7px">T<tspan font-size="14" font-weight="bold" dy="4">A</tspan><tspan dy="-4">=25°C</tspan></text>
<text x="306.84" y="852" font-size="21" text-anchor="end" textLength="47.67" lengthAdjust="spacingAndGlyphs" transform="rotate(-0.65 306.84 852)" style="stroke:#000;stroke-width:0.7px">1000</text>
<text x="306.8" y="988.7" font-size="21" text-anchor="end" textLength="34.37" lengthAdjust="spacingAndGlyphs" transform="rotate(-0.65 306.8 988.7)" style="stroke:#000;stroke-width:0.7px">100</text>
<text x="308.13" y="1129.5" font-size="21" text-anchor="end" textLength="23.76" lengthAdjust="spacingAndGlyphs" transform="rotate(-0.65 308.13 1129.5)" style="stroke:#000;stroke-width:0.7px">10</text>
<text x="309.52" y="1267.5" font-size="21" text-anchor="end" textLength="29.11" lengthAdjust="spacingAndGlyphs" transform="rotate(-0.65 309.52 1267.5)" style="stroke:#000;stroke-width:0.7px">1.0</text>
<text x="310.95" y="1405.3" font-size="21" text-anchor="end" textLength="27.01" lengthAdjust="spacingAndGlyphs" transform="rotate(-0.65 310.95 1405.3)" style="stroke:#000;stroke-width:0.7px">0.1</text>
<text x="321.6" y="1420.03" font-size="21.5" text-anchor="middle" transform="rotate(-0.65 321.6 1420.03)" style="stroke:#000;stroke-width:0.7px">0</text>
<text x="377.2" y="1419.4" font-size="21.5" text-anchor="middle" transform="rotate(-0.65 377.2 1419.4)" style="stroke:#000;stroke-width:0.7px">20</text>
<text x="433.3" y="1418.76" font-size="21.5" text-anchor="middle" transform="rotate(-0.65 433.3 1418.76)" style="stroke:#000;stroke-width:0.7px">40</text>
<text x="490.4" y="1418.12" font-size="21.5" text-anchor="middle" transform="rotate(-0.65 490.4 1418.12)" style="stroke:#000;stroke-width:0.7px">60</text>
<text x="548.3" y="1417.46" font-size="21.5" text-anchor="middle" transform="rotate(-0.65 548.3 1417.46)" style="stroke:#000;stroke-width:0.7px">80</text>
<text x="601" y="1416.86" font-size="21.5" text-anchor="middle" transform="rotate(-0.65 601 1416.86)" style="stroke:#000;stroke-width:0.7px">100</text>
<text x="658.9" y="1416.2" font-size="21.5" text-anchor="middle" transform="rotate(-0.65 658.9 1416.2)" style="stroke:#000;stroke-width:0.7px">120</text>
<text x="710.4" y="1415.62" font-size="21.5" text-anchor="middle" transform="rotate(-0.65 710.4 1415.62)" style="stroke:#000;stroke-width:0.7px">140</text>
<text x="250.18" y="1442.8" font-size="23" textLength="506.91" lengthAdjust="spacingAndGlyphs" transform="rotate(-0.65 250.18 1442.8)" style="stroke:#000;stroke-width:0.7px">PERCENT OF RATED PEAK REVESE VOLTAGE (%)</text>
<text x="0" y="0" font-size="21.5" textLength="425.3" lengthAdjust="spacingAndGlyphs" style="stroke:#000;stroke-width:0.7px" transform="translate(260.1 1323.3) rotate(-90.65)">INSTANTANEOUS REVERSE CURRENT (μA)</text>
<text x="923.38" y="799" font-size="29.5" textLength="594.11" lengthAdjust="spacingAndGlyphs" transform="rotate(-0.65 923.38 799)" style="stroke:#000;stroke-width:1px"><tspan style="stroke:#000;stroke-width:0.4px">FIG.4 –  </tspan>TYPICAL FORWARD CHARACTERISTICS</text>
<line x1="1125.05" y1="847.52" x2="1127.98" y2="1398.59" stroke-width="2.3"/>
<line x1="1186.98" y1="846.97" x2="1189.84" y2="1398.12" stroke-width="2.3"/>
<line x1="1239.45" y1="846.51" x2="1242.24" y2="1397.72" stroke-width="2.3"/>
<line x1="1297.05" y1="845.99" x2="1299.76" y2="1397.28" stroke-width="2.3"/>
<line x1="1352.28" y1="845.5" x2="1354.92" y2="1396.86" stroke-width="2.3"/>
<line x1="1409.48" y1="845" x2="1412.05" y2="1396.43" stroke-width="2.3"/>
<line x1="1073.77" y1="1357.53" x2="1467.81" y2="1354.5" stroke-width="2.3"/>
<line x1="1073.64" y1="1333.28" x2="1467.7" y2="1330.22" stroke-width="2.3"/>
<line x1="1073.55" y1="1316.07" x2="1467.62" y2="1312.99" stroke-width="2.3"/>
<line x1="1073.48" y1="1302.72" x2="1467.56" y2="1299.63" stroke-width="2.3"/>
<line x1="1073.42" y1="1291.81" x2="1467.51" y2="1288.71" stroke-width="2.3"/>
<line x1="1073.37" y1="1282.59" x2="1467.47" y2="1279.48" stroke-width="2.3"/>
<line x1="1073.32" y1="1274.6" x2="1467.44" y2="1271.49" stroke-width="2.3"/>
<line x1="1073.28" y1="1267.55" x2="1467.4" y2="1264.43" stroke-width="2.3"/>
<line x1="1073.25" y1="1261.25" x2="1467.38" y2="1258.12" stroke-width="2.3"/>
<line x1="1073.02" y1="1219.78" x2="1467.19" y2="1216.62" stroke-width="2.3"/>
<line x1="1072.89" y1="1195.53" x2="1467.08" y2="1192.34" stroke-width="2.3"/>
<line x1="1072.8" y1="1178.32" x2="1467" y2="1175.12" stroke-width="2.3"/>
<line x1="1072.73" y1="1164.97" x2="1466.94" y2="1161.75" stroke-width="2.3"/>
<line x1="1072.67" y1="1154.06" x2="1466.89" y2="1150.84" stroke-width="2.3"/>
<line x1="1072.62" y1="1144.84" x2="1466.85" y2="1141.61" stroke-width="2.3"/>
<line x1="1072.57" y1="1136.85" x2="1466.81" y2="1133.61" stroke-width="2.3"/>
<line x1="1072.53" y1="1129.8" x2="1466.78" y2="1126.56" stroke-width="2.3"/>
<line x1="1072.5" y1="1123.5" x2="1466.75" y2="1120.25" stroke-width="2.3"/>
<line x1="1072.27" y1="1082.03" x2="1466.56" y2="1078.75" stroke-width="2.3"/>
<line x1="1072.14" y1="1057.78" x2="1466.45" y2="1054.47" stroke-width="2.3"/>
<line x1="1072.05" y1="1040.57" x2="1466.37" y2="1037.24" stroke-width="2.3"/>
<line x1="1071.98" y1="1027.22" x2="1466.31" y2="1023.88" stroke-width="2.3"/>
<line x1="1071.92" y1="1016.31" x2="1466.26" y2="1012.96" stroke-width="2.3"/>
<line x1="1071.87" y1="1007.09" x2="1466.22" y2="1003.73" stroke-width="2.3"/>
<line x1="1071.82" y1="999.1" x2="1466.19" y2="995.74" stroke-width="2.3"/>
<line x1="1071.78" y1="992.05" x2="1466.15" y2="988.68" stroke-width="2.3"/>
<line x1="1071.75" y1="985.75" x2="1466.12" y2="982.38" stroke-width="2.3"/>
<line x1="1071.52" y1="944.28" x2="1465.94" y2="940.87" stroke-width="2.3"/>
<line x1="1071.39" y1="920.03" x2="1465.83" y2="916.59" stroke-width="2.3"/>
<line x1="1071.3" y1="902.82" x2="1465.75" y2="899.37" stroke-width="2.3"/>
<line x1="1071.23" y1="889.47" x2="1465.69" y2="886" stroke-width="2.3"/>
<line x1="1071.17" y1="878.56" x2="1465.64" y2="875.09" stroke-width="2.3"/>
<line x1="1071.12" y1="869.34" x2="1465.6" y2="865.86" stroke-width="2.3"/>
<line x1="1071.07" y1="861.35" x2="1465.56" y2="857.86" stroke-width="2.3"/>
<line x1="1071.03" y1="854.3" x2="1465.53" y2="850.81" stroke-width="2.3"/>
<path d="M1071 848 L1465.5 844.5 L1468 1396 L1074 1399 Z" stroke-width="3.5" fill="none" stroke-linejoin="miter"/>
<rect x="1269" y="1325" width="192" height="67" fill="#fff" stroke="none"/>
<rect x="-73" y="-11" width="146" height="22" fill="#fff" stroke="none" transform="translate(1307 1057.5) rotate(-59)"/>
<rect x="-76" y="-11" width="152" height="22" fill="#fff" stroke="none" transform="translate(1330.5 1122.5) rotate(-53.5)"/>
<path d="M1202.8 1398.2 L1203.8 1388.2 L1205 1378.3 L1206.5 1368.5 L1208.3 1358.7 L1210.2 1349.1 L1212.3 1339.4 L1214.5 1329.9 L1216.9 1320.3 L1219.4 1310.9 L1222 1301.4 L1224.7 1292 L1227.5 1282.6 L1230.4 1273.2 L1233.4 1263.8 L1236.4 1254.4 L1239.6 1245.1 L1242.7 1235.8 L1246 1226.5 L1249.3 1217.2 L1252.6 1207.9 L1256 1198.6 L1259.5 1189.4 L1263 1180.1 L1266.6 1170.9 L1270.3 1161.7 L1274 1152.6 L1277.9 1143.5 L1281.8 1134.4 L1285.8 1125.3 L1289.8 1116.3 L1294 1107.4 L1298.3 1098.5 L1302.7 1089.7 L1307.2 1080.9 L1311.8 1072.2 L1316.6 1063.6 L1321.5 1055 L1326.5 1046.6 L1331.6 1038.2 L1337 1029.9 L1342.4 1021.8 L1348 1013.7 L1353.8 1005.7 L1359.7 997.9 L1365.8 990.2 L1372 982.5 L1378.5 975.1 L1385 967.7 L1391.7 960.5 L1398.6 953.4 L1405.6 946.4 L1412.8 939.6 L1420.1 932.9 L1427.5 926.3 L1435 919.9 L1442.7 913.6 L1450.4 907.5 L1458.2 901.5 L1466.1 895.6" stroke-width="4.6" fill="none" stroke-linejoin="round" stroke-linecap="round"/>
<path d="M1225.1 1398 L1226.5 1390.3 L1228.1 1382.6 L1229.9 1375 L1231.8 1367.4 L1233.8 1359.8 L1236 1352.2 L1238.2 1344.7 L1240.5 1337.2 L1243 1329.8 L1245.5 1322.3 L1248 1314.9 L1250.7 1307.5 L1253.3 1300.1 L1256.1 1292.8 L1258.9 1285.4 L1261.7 1278.1 L1264.6 1270.8 L1267.6 1263.5 L1270.5 1256.3 L1273.6 1249.1 L1276.7 1241.8 L1279.8 1234.7 L1283 1227.5 L1286.2 1220.4 L1289.6 1213.3 L1292.9 1206.2 L1296.4 1199.2 L1299.9 1192.2 L1303.5 1185.2 L1307.2 1178.3 L1310.9 1171.5 L1314.8 1164.6 L1318.7 1157.9 L1322.8 1151.2 L1326.9 1144.5 L1331.2 1138 L1335.6 1131.5 L1340.1 1125 L1344.7 1118.7 L1349.4 1112.5 L1354.3 1106.3 L1359.4 1100.3 L1364.5 1094.4 L1369.8 1088.6 L1375.3 1082.9 L1380.8 1077.3 L1386.6 1072 L1392.5 1066.7 L1398.5 1061.6 L1404.6 1056.7 L1410.9 1052 L1417.4 1047.5 L1424 1043.2 L1430.7 1039.1 L1437.5 1035.3 L1444.5 1031.7 L1451.5 1028.3 L1458.7 1025.2 L1465.9 1022.4" stroke-width="4.6" fill="none" stroke-linejoin="round" stroke-linecap="round"/>
<text x="0" y="6.88" font-size="20" text-anchor="middle" textLength="136" lengthAdjust="spacingAndGlyphs" style="stroke:#000;stroke-width:0.7px" transform="translate(1307 1057.5) rotate(-59)">SF31G-SF34G</text>
<text x="0" y="6.88" font-size="20" text-anchor="middle" textLength="144" lengthAdjust="spacingAndGlyphs" style="stroke:#000;stroke-width:0.7px" transform="translate(1330.5 1122.5) rotate(-53.5)">SF35G-SF36G</text>
<text x="1273.61" y="1341.6" font-size="20.3" textLength="71.46" lengthAdjust="spacingAndGlyphs" transform="rotate(-0.65 1273.61 1341.6)" style="stroke:#000;stroke-width:0.7px">T<tspan font-size="13" dy="4">A</tspan><tspan dy="-4">=25°C</tspan></text>
<text x="1270.95" y="1359.3" font-size="20.3" textLength="184.62" lengthAdjust="spacingAndGlyphs" transform="rotate(-0.65 1270.95 1359.3)" style="stroke:#000;stroke-width:0.7px">Pulse Width=300μs</text>
<text x="1271.71" y="1384.1" font-size="20.3" textLength="137.02" lengthAdjust="spacingAndGlyphs" transform="rotate(-0.65 1271.71 1384.1)" style="stroke:#000;stroke-width:0.7px">1% Duty Cycle</text>
<text x="1064.85" y="856.5" font-size="21" text-anchor="end" textLength="54.51" lengthAdjust="spacingAndGlyphs" transform="rotate(-0.65 1064.85 856.5)" style="stroke:#000;stroke-width:0.7px">100.0</text>
<text x="1065.33" y="990.4" font-size="21" text-anchor="end" textLength="41.45" lengthAdjust="spacingAndGlyphs" transform="rotate(-0.65 1065.33 990.4)" style="stroke:#000;stroke-width:0.7px">10.0</text>
<text x="1065.82" y="1132.6" font-size="21" text-anchor="end" textLength="29.11" lengthAdjust="spacingAndGlyphs" transform="rotate(-0.65 1065.82 1132.6)" style="stroke:#000;stroke-width:0.7px">1.0</text>
<text x="1066.94" y="1270" font-size="21" text-anchor="end" textLength="26.9" lengthAdjust="spacingAndGlyphs" transform="rotate(-0.65 1066.94 1270)" style="stroke:#000;stroke-width:0.7px">0.1</text>
<text x="1068.72" y="1408.3" font-size="21" text-anchor="end" textLength="29.03" lengthAdjust="spacingAndGlyphs" transform="rotate(-0.65 1068.72 1408.3)" style="stroke:#000;stroke-width:0.7px">.01</text>
<text x="1125.8" y="1422" font-size="21" text-anchor="middle" transform="rotate(-0.65 1125.8 1422)" style="stroke:#000;stroke-width:0.7px">.2</text>
<text x="1185.8" y="1421.32" font-size="21" text-anchor="middle" transform="rotate(-0.65 1185.8 1421.32)" style="stroke:#000;stroke-width:0.7px">.4</text>
<text x="1240.6" y="1420.7" font-size="21" text-anchor="middle" transform="rotate(-0.65 1240.6 1420.7)" style="stroke:#000;stroke-width:0.7px">.6</text>
<text x="1301" y="1420.01" font-size="21" text-anchor="middle" transform="rotate(-0.65 1301 1420.01)" style="stroke:#000;stroke-width:0.7px">.8</text>
<text x="1351.5" y="1419.44" font-size="21" text-anchor="middle" transform="rotate(-0.65 1351.5 1419.44)" style="stroke:#000;stroke-width:0.7px">1.0</text>
<text x="1411.9" y="1418.75" font-size="21" text-anchor="middle" transform="rotate(-0.65 1411.9 1418.75)" style="stroke:#000;stroke-width:0.7px">1.2</text>
<text x="1465" y="1418.15" font-size="21" text-anchor="middle" transform="rotate(-0.65 1465 1418.15)" style="stroke:#000;stroke-width:0.7px">1.4</text>
<text x="1125.2" y="1446.8" font-size="22.8" textLength="243.98" lengthAdjust="spacingAndGlyphs" transform="rotate(-0.65 1125.2 1446.8)" style="stroke:#000;stroke-width:0.7px">FORWARD VOLTAGE (V)</text>
<text x="0" y="0" font-size="21.5" textLength="422.5" lengthAdjust="spacingAndGlyphs" style="stroke:#000;stroke-width:0.7px" transform="translate(995.1 1356) rotate(-90.65)">INSTANTANEOUS FORWARDCURRENT (A)</text>
<text x="280.34" y="1540.8" font-size="29.5" font-weight="bold" textLength="473.19" lengthAdjust="spacingAndGlyphs" transform="rotate(-0.65 280.34 1540.8)"><tspan font-weight="normal" style="stroke:#000;stroke-width:0.4px">FIG.5 – </tspan>MAXIMUM NON – REPETITIVE</text>
<text x="337.41" y="1567.6" font-size="29.5" font-weight="bold" textLength="359.36" lengthAdjust="spacingAndGlyphs" transform="rotate(-0.65 337.41 1567.6)">FORWARD SURGE CURRENT</text>
<line x1="341.87" y1="1579" x2="342.95" y2="1957.09" stroke-width="2.3"/>
<line x1="385.84" y1="1578.48" x2="386.95" y2="1956.77" stroke-width="2.3"/>
<line x1="425.65" y1="1578.02" x2="426.8" y2="1956.49" stroke-width="2.3"/>
<line x1="455.43" y1="1577.67" x2="456.6" y2="1956.27" stroke-width="2.3"/>
<line x1="479.01" y1="1577.39" x2="480.2" y2="1956.1" stroke-width="2.3"/>
<line x1="500.19" y1="1577.14" x2="501.4" y2="1955.95" stroke-width="2.3"/>
<line x1="516.57" y1="1576.95" x2="517.8" y2="1955.83" stroke-width="2.3"/>
<line x1="531.56" y1="1576.77" x2="532.8" y2="1955.72" stroke-width="2.3"/>
<line x1="544.25" y1="1576.62" x2="545.5" y2="1955.63" stroke-width="2.3"/>
<line x1="628.02" y1="1575.64" x2="629.35" y2="1955.03" stroke-width="2.3"/>
<line x1="672.54" y1="1575.12" x2="673.9" y2="1954.71" stroke-width="2.3"/>
<line x1="710.95" y1="1574.67" x2="712.35" y2="1954.44" stroke-width="2.3"/>
<line x1="739.88" y1="1574.33" x2="741.3" y2="1954.23" stroke-width="2.3"/>
<line x1="762.21" y1="1574.07" x2="763.65" y2="1954.07" stroke-width="2.3"/>
<line x1="785.39" y1="1573.79" x2="786.85" y2="1953.9" stroke-width="2.3"/>
<line x1="802.47" y1="1573.59" x2="803.95" y2="1953.78" stroke-width="2.3"/>
<line x1="817.26" y1="1573.42" x2="818.75" y2="1953.67" stroke-width="2.3"/>
<line x1="256.65" y1="1634.8" x2="827.72" y2="1628.48" stroke-width="2.3"/>
<line x1="256.79" y1="1689.8" x2="827.94" y2="1683.85" stroke-width="2.3"/>
<line x1="256.93" y1="1744" x2="828.15" y2="1738.43" stroke-width="2.3"/>
<line x1="257.08" y1="1799.59" x2="828.37" y2="1794.41" stroke-width="2.3"/>
<line x1="257.23" y1="1854.21" x2="828.59" y2="1849.4" stroke-width="2.3"/>
<line x1="257.37" y1="1906.71" x2="828.8" y2="1902.26" stroke-width="2.3"/>
<path d="M256.5 1580 L827.5 1573.3 L829 1953.6 L257.5 1957.7 Z" stroke-width="3.5" fill="none" stroke-linejoin="miter"/>
<rect x="572" y="1596" width="166" height="85" fill="#fff" stroke="none"/>
<rect x="620" y="1589" width="96" height="7" fill="#fff" stroke="none"/>
<rect x="737" y="1613" width="9" height="17" fill="#fff" stroke="none"/>
<path d="M257.3 1744 L265.8 1749.7 L274.4 1755.3 L283.1 1760.8 L291.8 1766.2 L300.6 1771.5 L309.5 1776.6 L318.5 1781.7 L327.5 1786.6 L336.5 1791.4 L345.6 1796.2 L354.8 1800.8 L364 1805.3 L373.2 1809.7 L382.5 1814.1 L391.9 1818.3 L401.3 1822.4 L410.7 1826.5 L420.1 1830.5 L429.6 1834.3 L439.2 1838.1 L448.7 1841.8 L458.3 1845.5 L468 1849 L477.6 1852.5 L487.3 1855.9 L497 1859.2 L506.8 1862.4 L516.6 1865.5 L526.4 1868.6 L536.2 1871.6 L546 1874.5 L555.9 1877.3 L565.8 1880.1 L575.7 1882.7 L585.6 1885.3 L595.6 1887.8 L605.6 1890.2 L615.6 1892.6 L625.6 1894.8 L635.6 1897 L645.7 1899.1 L655.7 1901.1 L665.8 1903 L675.9 1904.8 L686 1906.5 L696.2 1908.1 L706.3 1909.6 L716.5 1911 L726.7 1912.3 L736.9 1913.4 L747.1 1914.5 L757.3 1915.4 L767.5 1916.2 L777.7 1916.9 L788 1917.4 L798.3 1917.8 L808.5 1918.1 L818.8 1918.2 L829.1 1918.1" stroke-width="3" fill="none" stroke-linejoin="round" stroke-linecap="round"/>
<text x="630.31" y="1606.3" font-size="22" textLength="71.15" lengthAdjust="spacingAndGlyphs" transform="rotate(-0.65 630.31 1606.3)" style="stroke:#000;stroke-width:0.7px">T<tspan font-size="14" font-weight="bold" dy="3">A</tspan><tspan dy="-3">=25°C</tspan></text>
<text x="572.97" y="1631" font-size="20.5" textLength="174.07" lengthAdjust="spacingAndGlyphs" transform="rotate(-0.65 572.97 1631)" style="stroke:#000;stroke-width:0.7px">8.3ms Single Hafe</text>
<text x="572.93" y="1656.4" font-size="20.5" textLength="103.42" lengthAdjust="spacingAndGlyphs" transform="rotate(-0.65 572.93 1656.4)" style="stroke:#000;stroke-width:0.7px">Sine Wave</text>
<text x="573.04" y="1677" font-size="15" font-weight="bold" textLength="135.22" lengthAdjust="spacingAndGlyphs" transform="rotate(-0.65 573.04 1677)">(JEDEC Method)</text>
<text x="250.89" y="1588.3" font-size="21.5" text-anchor="end" textLength="35.52" lengthAdjust="spacingAndGlyphs" transform="rotate(-0.65 250.89 1588.3)" style="stroke:#000;stroke-width:0.7px">175</text>
<text x="250.78" y="1641.7" font-size="21.5" text-anchor="end" textLength="33.3" lengthAdjust="spacingAndGlyphs" transform="rotate(-0.65 250.78 1641.7)" style="stroke:#000;stroke-width:0.7px">150</text>
<text x="250.87" y="1696.4" font-size="21.5" text-anchor="end" textLength="34.44" lengthAdjust="spacingAndGlyphs" transform="rotate(-0.65 250.87 1696.4)" style="stroke:#000;stroke-width:0.7px">125</text>
<text x="250.8" y="1751.4" font-size="21.5" text-anchor="end" textLength="34.37" lengthAdjust="spacingAndGlyphs" transform="rotate(-0.65 250.8 1751.4)" style="stroke:#000;stroke-width:0.7px">100</text>
<text x="250.96" y="1806.6" font-size="21.5" text-anchor="end" textLength="25.43" lengthAdjust="spacingAndGlyphs" transform="rotate(-0.65 250.96 1806.6)" style="stroke:#000;stroke-width:0.7px">75</text>
<text x="250.87" y="1860" font-size="21.5" text-anchor="end" textLength="24.76" lengthAdjust="spacingAndGlyphs" transform="rotate(-0.65 250.87 1860)" style="stroke:#000;stroke-width:0.7px">50</text>
<text x="250.95" y="1914.6" font-size="21.5" text-anchor="end" textLength="25.08" lengthAdjust="spacingAndGlyphs" transform="rotate(-0.65 250.95 1914.6)" style="stroke:#000;stroke-width:0.7px">25</text>
<text x="252.18" y="1964.3" font-size="21.5" text-anchor="end" textLength="12.57" lengthAdjust="spacingAndGlyphs" transform="rotate(-0.65 252.18 1964.3)" style="stroke:#000;stroke-width:0.7px">0</text>
<text x="255.4" y="1978.99" font-size="22" text-anchor="middle" transform="rotate(-0.65 255.4 1978.99)" style="stroke:#000;stroke-width:0.7px">1</text>
<text x="342.4" y="1978" font-size="22" text-anchor="middle" transform="rotate(-0.65 342.4 1978)" style="stroke:#000;stroke-width:0.7px">2</text>
<text x="458.4" y="1976.68" font-size="22" text-anchor="middle" transform="rotate(-0.65 458.4 1976.68)" style="stroke:#000;stroke-width:0.7px">5</text>
<text x="545" y="1975.7" font-size="22" text-anchor="middle" transform="rotate(-0.65 545 1975.7)" style="stroke:#000;stroke-width:0.7px">10</text>
<text x="631" y="1974.73" font-size="22" text-anchor="middle" transform="rotate(-0.65 631 1974.73)" style="stroke:#000;stroke-width:0.7px">20</text>
<text x="747" y="1973.41" font-size="22" text-anchor="middle" transform="rotate(-0.65 747 1973.41)" style="stroke:#000;stroke-width:0.7px">50</text>
<text x="830.2" y="1972.47" font-size="22" text-anchor="middle" transform="rotate(-0.65 830.2 1972.47)" style="stroke:#000;stroke-width:0.7px">100</text>
<text x="382.47" y="2005" font-size="21.5" textLength="310.08" lengthAdjust="spacingAndGlyphs" transform="rotate(-0.65 382.47 2005)" style="stroke:#000;stroke-width:0.7px">NUMBER OF CYCLES AT 60 Hz</text>
<text x="0" y="0" font-size="21.5" textLength="392.2" lengthAdjust="spacingAndGlyphs" style="stroke:#000;stroke-width:0.7px" transform="translate(211.9 1969.7) rotate(-90.65)">PEAK FORWARD SURGE CURRENT. (A)</text>
<text x="977.87" y="1543.8" font-size="29.5" textLength="533.15" lengthAdjust="spacingAndGlyphs" transform="rotate(-0.65 977.87 1543.8)" style="stroke:#000;stroke-width:1px"><tspan style="stroke:#000;stroke-width:0.4px">FIG.6 – </tspan>TYPICAL JUNCTION CAPACITANCE</text>
<line x1="1029.52" y1="1563.04" x2="1031.94" y2="1945.58" stroke-width="2.3"/>
<line x1="1054.39" y1="1562.89" x2="1056.77" y2="1945.33" stroke-width="2.3"/>
<line x1="1072.03" y1="1562.78" x2="1074.38" y2="1945.15" stroke-width="2.3"/>
<line x1="1085.72" y1="1562.7" x2="1088.05" y2="1945.02" stroke-width="2.3"/>
<line x1="1096.9" y1="1562.63" x2="1099.21" y2="1944.9" stroke-width="2.3"/>
<line x1="1106.36" y1="1562.57" x2="1108.65" y2="1944.81" stroke-width="2.3"/>
<line x1="1114.55" y1="1562.52" x2="1116.82" y2="1944.73" stroke-width="2.3"/>
<line x1="1121.77" y1="1562.48" x2="1124.04" y2="1944.66" stroke-width="2.3"/>
<line x1="1128.23" y1="1562.44" x2="1130.49" y2="1944.59" stroke-width="2.3"/>
<line x1="1171.73" y1="1562.17" x2="1173.91" y2="1944.16" stroke-width="2.3"/>
<line x1="1197.18" y1="1562.01" x2="1199.31" y2="1943.9" stroke-width="2.3"/>
<line x1="1215.23" y1="1561.9" x2="1217.33" y2="1943.72" stroke-width="2.3"/>
<line x1="1229.23" y1="1561.82" x2="1231.31" y2="1943.59" stroke-width="2.3"/>
<line x1="1240.67" y1="1561.75" x2="1242.73" y2="1943.47" stroke-width="2.3"/>
<line x1="1250.35" y1="1561.69" x2="1252.39" y2="1943.37" stroke-width="2.3"/>
<line x1="1258.73" y1="1561.64" x2="1260.75" y2="1943.29" stroke-width="2.3"/>
<line x1="1266.12" y1="1561.59" x2="1268.13" y2="1943.22" stroke-width="2.3"/>
<line x1="1272.73" y1="1561.55" x2="1274.73" y2="1943.15" stroke-width="2.3"/>
<line x1="1316.29" y1="1561.28" x2="1318.22" y2="1942.72" stroke-width="2.3"/>
<line x1="1341.78" y1="1561.13" x2="1343.66" y2="1942.46" stroke-width="2.3"/>
<line x1="1359.86" y1="1561.02" x2="1361.71" y2="1942.28" stroke-width="2.3"/>
<line x1="1373.89" y1="1560.93" x2="1375.71" y2="1942.14" stroke-width="2.3"/>
<line x1="1385.34" y1="1560.86" x2="1387.15" y2="1942.03" stroke-width="2.3"/>
<line x1="1395.03" y1="1560.8" x2="1396.82" y2="1941.93" stroke-width="2.3"/>
<line x1="1403.43" y1="1560.75" x2="1405.2" y2="1941.85" stroke-width="2.3"/>
<line x1="1410.83" y1="1560.71" x2="1412.59" y2="1941.78" stroke-width="2.3"/>
<line x1="1417.45" y1="1560.67" x2="1419.2" y2="1941.71" stroke-width="2.3"/>
<line x1="1460" y1="1560.4" x2="1461.67" y2="1941.28" stroke-width="2.3"/>
<line x1="1484.89" y1="1560.25" x2="1486.52" y2="1941.04" stroke-width="2.3"/>
<line x1="1502.55" y1="1560.14" x2="1504.15" y2="1940.86" stroke-width="2.3"/>
<line x1="1516.25" y1="1560.06" x2="1517.82" y2="1940.72" stroke-width="2.3"/>
<line x1="1527.44" y1="1559.99" x2="1529" y2="1940.61" stroke-width="2.3"/>
<line x1="1536.9" y1="1559.93" x2="1538.44" y2="1940.52" stroke-width="2.3"/>
<line x1="1545.1" y1="1559.88" x2="1546.63" y2="1940.44" stroke-width="2.3"/>
<line x1="1552.33" y1="1559.84" x2="1553.84" y2="1940.36" stroke-width="2.3"/>
<line x1="987.36" y1="1618.26" x2="1559.02" y2="1614.44" stroke-width="2.3"/>
<line x1="987.72" y1="1672.94" x2="1559.23" y2="1668.81" stroke-width="2.3"/>
<line x1="988.08" y1="1728.32" x2="1559.45" y2="1723.87" stroke-width="2.3"/>
<line x1="988.44" y1="1783.58" x2="1559.66" y2="1778.82" stroke-width="2.3"/>
<line x1="988.8" y1="1838.16" x2="1559.88" y2="1833.08" stroke-width="2.3"/>
<line x1="989.15" y1="1892.42" x2="1560.09" y2="1887.03" stroke-width="2.3"/>
<path d="M987 1563.3 L1558.8 1559.8 L1560.3 1940.3 L989.5 1946 Z" stroke-width="3.5" fill="none" stroke-linejoin="miter"/>
<rect x="1435" y="1789" width="80" height="29" fill="#fff" stroke="none"/>
<rect x="-71" y="-10.5" width="142" height="21" fill="#fff" stroke="none" transform="translate(1232.7 1723.5) rotate(30.5)"/>
<rect x="-74" y="-10.5" width="148" height="21" fill="#fff" stroke="none" transform="translate(1183 1806) rotate(27)"/>
<path d="M1012.8 1564.8 L1019.8 1573 L1027 1581 L1034.3 1588.9 L1041.8 1596.7 L1049.5 1604.4 L1057.2 1611.9 L1065.1 1619.3 L1073.1 1626.6 L1081.3 1633.8 L1089.5 1640.8 L1097.8 1647.7 L1106.3 1654.4 L1114.8 1661.1 L1123.4 1667.7 L1132.1 1674.1 L1140.8 1680.4 L1149.7 1686.7 L1158.6 1692.8 L1167.5 1698.8 L1176.5 1704.8 L1185.6 1710.6 L1194.8 1716.4 L1204 1722.1 L1213.2 1727.7 L1222.5 1733.2 L1231.9 1738.7 L1241.3 1744 L1250.7 1749.3 L1260.2 1754.6 L1269.7 1759.7 L1279.2 1764.8 L1288.8 1769.8 L1298.4 1774.8 L1308.1 1779.6 L1317.8 1784.4 L1327.5 1789.2 L1337.3 1793.8 L1347.1 1798.4 L1356.9 1803 L1366.7 1807.4 L1376.6 1811.8 L1386.5 1816.1 L1396.4 1820.4 L1406.4 1824.6 L1416.4 1828.7 L1426.4 1832.7 L1436.4 1836.7 L1446.5 1840.6 L1456.6 1844.5 L1466.8 1848.3 L1476.9 1852 L1487.1 1855.6 L1497.3 1859.2 L1507.6 1862.6 L1517.8 1866 L1528.1 1869.4 L1538.4 1872.6 L1548.8 1875.8 L1559.1 1878.8" stroke-width="4.2" fill="none" stroke-linejoin="round" stroke-linecap="round"/>
<path d="M987.1 1712.3 L994.7 1717.4 L1002.4 1722.5 L1010 1727.6 L1017.6 1732.7 L1025.3 1737.8 L1033.1 1742.8 L1040.9 1747.7 L1048.7 1752.5 L1056.6 1757.2 L1064.5 1761.9 L1072.5 1766.5 L1080.5 1771 L1088.5 1775.4 L1096.6 1779.7 L1104.7 1784 L1112.9 1788.2 L1121.1 1792.3 L1129.3 1796.4 L1137.6 1800.5 L1145.8 1804.5 L1154.1 1808.4 L1162.4 1812.4 L1170.7 1816.3 L1179.1 1820.1 L1187.4 1823.9 L1195.8 1827.7 L1204.2 1831.5 L1212.6 1835.1 L1221.1 1838.8 L1229.5 1842.4 L1238 1845.9 L1246.5 1849.4 L1255 1852.9 L1263.6 1856.2 L1272.1 1859.6 L1280.7 1862.8 L1289.3 1866.1 L1297.9 1869.2 L1306.6 1872.3 L1315.2 1875.4 L1323.9 1878.4 L1332.6 1881.4 L1341.3 1884.4 L1350 1887.3 L1358.7 1890.2 L1367.4 1893.1 L1376.2 1895.9 L1384.9 1898.8 L1393.7 1901.6 L1402.4 1904.5 L1411.1 1907.3 L1419.9 1910 L1428.7 1912.7 L1437.5 1915.4 L1446.3 1917.9 L1455.2 1920.2 L1464.1 1922.4 L1473.1 1924.3 L1482.2 1925.8" stroke-width="4.2" fill="none" stroke-linejoin="round" stroke-linecap="round"/>
<text x="0" y="6.88" font-size="20" text-anchor="middle" textLength="134" lengthAdjust="spacingAndGlyphs" style="stroke:#000;stroke-width:0.7px" transform="translate(1232.7 1723.5) rotate(30.5)">SF31G-SF34G</text>
<text x="0" y="6.88" font-size="20" text-anchor="middle" textLength="140" lengthAdjust="spacingAndGlyphs" style="stroke:#000;stroke-width:0.7px" transform="translate(1183 1806) rotate(27)">SF35G-SF36G</text>
<text x="1439.49" y="1812" font-size="21" textLength="72.42" lengthAdjust="spacingAndGlyphs" transform="rotate(-0.65 1439.49 1812)" style="stroke:#000;stroke-width:0.7px">T<tspan font-size="13" dy="3">J</tspan><tspan dy="-3">=25°C</tspan></text>
<text x="983.13" y="1573.5" font-size="21" text-anchor="end" textLength="37.13" lengthAdjust="spacingAndGlyphs" transform="rotate(-0.65 983.13 1573.5)" style="stroke:#000;stroke-width:0.7px">175</text>
<text x="983.07" y="1627" font-size="21" text-anchor="end" textLength="37.06" lengthAdjust="spacingAndGlyphs" transform="rotate(-0.65 983.07 1627)" style="stroke:#000;stroke-width:0.7px">150</text>
<text x="983.13" y="1682.5" font-size="21" text-anchor="end" textLength="37.13" lengthAdjust="spacingAndGlyphs" transform="rotate(-0.65 983.13 1682.5)" style="stroke:#000;stroke-width:0.7px">125</text>
<text x="983.07" y="1738.5" font-size="21" text-anchor="end" textLength="37.06" lengthAdjust="spacingAndGlyphs" transform="rotate(-0.65 983.07 1738.5)" style="stroke:#000;stroke-width:0.7px">100</text>
<text x="983.13" y="1794.5" font-size="21" text-anchor="end" textLength="24.56" lengthAdjust="spacingAndGlyphs" transform="rotate(-0.65 983.13 1794.5)" style="stroke:#000;stroke-width:0.7px">75</text>
<text x="983.05" y="1847" font-size="21" text-anchor="end" textLength="24.22" lengthAdjust="spacingAndGlyphs" transform="rotate(-0.65 983.05 1847)" style="stroke:#000;stroke-width:0.7px">50</text>
<text x="983.13" y="1901.5" font-size="21" text-anchor="end" textLength="24.54" lengthAdjust="spacingAndGlyphs" transform="rotate(-0.65 983.13 1901.5)" style="stroke:#000;stroke-width:0.7px">25</text>
<text x="982.18" y="1968.57" font-size="20.5" text-anchor="middle" textLength="16.47" lengthAdjust="spacingAndGlyphs" transform="rotate(-0.65 982.18 1968.57)" style="stroke:#000;stroke-width:0.7px">.1</text>
<text x="1084.22" y="1967.41" font-size="20.5" text-anchor="middle" textLength="16.31" lengthAdjust="spacingAndGlyphs" transform="rotate(-0.65 1084.22 1967.41)" style="stroke:#000;stroke-width:0.7px">.5</text>
<text x="1129.66" y="1966.9" font-size="20.5" text-anchor="middle" textLength="9.93" lengthAdjust="spacingAndGlyphs" transform="rotate(-0.65 1129.66 1966.9)" style="stroke:#000;stroke-width:0.7px">1</text>
<text x="1171.6" y="1966.42" font-size="20.5" text-anchor="middle" textLength="14.16" lengthAdjust="spacingAndGlyphs" transform="rotate(-0.65 1171.6 1966.42)" style="stroke:#000;stroke-width:0.7px">2</text>
<text x="1231.22" y="1965.75" font-size="20.5" text-anchor="middle" textLength="12.55" lengthAdjust="spacingAndGlyphs" transform="rotate(-0.65 1231.22 1965.75)" style="stroke:#000;stroke-width:0.7px">5</text>
<text x="1273.12" y="1965.27" font-size="20.5" text-anchor="middle" textLength="22.98" lengthAdjust="spacingAndGlyphs" transform="rotate(-0.65 1273.12 1965.27)" style="stroke:#000;stroke-width:0.7px">10</text>
<text x="1313.88" y="1964.81" font-size="20.5" text-anchor="middle" textLength="24.68" lengthAdjust="spacingAndGlyphs" transform="rotate(-0.65 1313.88 1964.81)" style="stroke:#000;stroke-width:0.7px">20</text>
<text x="1373.69" y="1964.13" font-size="20.5" text-anchor="middle" textLength="25.41" lengthAdjust="spacingAndGlyphs" transform="rotate(-0.65 1373.69 1964.13)" style="stroke:#000;stroke-width:0.7px">50</text>
<text x="1420.02" y="1963.6" font-size="20.5" text-anchor="middle" textLength="33.73" lengthAdjust="spacingAndGlyphs" transform="rotate(-0.65 1420.02 1963.6)" style="stroke:#000;stroke-width:0.7px">100</text>
<text x="1460.78" y="1963.14" font-size="20.5" text-anchor="middle" textLength="35.71" lengthAdjust="spacingAndGlyphs" transform="rotate(-0.65 1460.78 1963.14)" style="stroke:#000;stroke-width:0.7px">200</text>
<text x="1517.79" y="1962.49" font-size="20.5" text-anchor="middle" textLength="36.32" lengthAdjust="spacingAndGlyphs" transform="rotate(-0.65 1517.79 1962.49)" style="stroke:#000;stroke-width:0.7px">500</text>
<text x="1559.79" y="1962.01" font-size="20.5" text-anchor="middle" textLength="49.67" lengthAdjust="spacingAndGlyphs" transform="rotate(-0.65 1559.79 1962.01)" style="stroke:#000;stroke-width:0.7px">1000</text>
<text x="1162.89" y="1996.8" font-size="22" textLength="238.01" lengthAdjust="spacingAndGlyphs" transform="rotate(-0.65 1162.89 1996.8)" style="stroke:#000;stroke-width:0.7px">REVERSE VOLTAGE (V)</text>
<text x="0" y="0" font-size="21.5" textLength="301.8" lengthAdjust="spacingAndGlyphs" style="stroke:#000;stroke-width:0.7px" transform="translate(924.6 1929.6) rotate(-90.65)">JUNCTION CAPACITANCE (pF)</text>
<line x1="1560" y1="1515.2" x2="1571" y2="1511.8" stroke-width="1.8"/>
<line x1="1571" y1="1511.8" x2="1583" y2="1509.3" stroke-width="1.4"/>
<line x1="1585" y1="1508.4" x2="1589.5" y2="1508.3" stroke-width="1.1"/>
<line x1="1567" y1="1506.8" x2="1569.5" y2="1506.8" stroke-width="1"/>
<line x1="1480.5" y1="1125.3" x2="1485.8" y2="1125.3" stroke-width="1.2"/>
<text x="1249.65" y="2155.9" font-size="15.5" textLength="338.68" lengthAdjust="spacing" style="stroke:#000;stroke-width:0.55px">JINAN GUDE ELECTRONIC DEVICE CO., LTD.</text>
</g></svg></body></html>
